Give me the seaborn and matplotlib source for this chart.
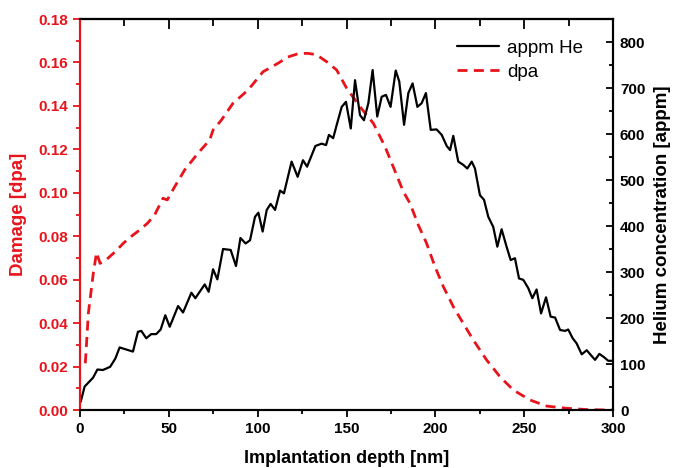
import matplotlib
matplotlib.use("Agg")
import matplotlib.pyplot as plt
import seaborn as sns
from matplotlib.ticker import MultipleLocator

# helium profile (appm)
he_depth = [0.4, 2.6, 7.3, 9.8, 12.9, 17.0, 19.9, 22.3, 29.8, 32.6, 34.5, 37.3, 40.1, 42.9,
            45.4, 48.0, 50.5, 55.2, 58.0, 62.7, 64.9, 70.2, 72.4, 74.9, 77.3, 80.5, 84.8,
            87.8, 90.3, 93.2, 95.7, 98.5, 100.4, 102.8, 105.1, 107.3, 109.8, 112.6, 114.8,
            119.1, 122.5, 125.5, 127.8, 132.5, 136.0, 138.5, 140.1, 142.5, 144.5, 147.3,
            149.7, 152.4, 154.8, 157.6, 159.8, 162.3, 164.7, 167.3, 169.8, 172.2, 174.8,
            177.7, 179.7, 182.4, 184.8, 187.2, 189.9, 192.3, 194.7, 197.4, 200.7, 203.6,
            206.4, 208.3, 210.1, 212.9, 215.7, 218.0, 220.5, 222.3, 225.1, 227.4, 229.8,
            232.6, 234.9, 237.3, 240.1, 242.4, 244.8, 247.1, 249.5, 252.3, 254.6, 257.0,
            259.5, 262.3, 264.9, 267.4, 270.2, 273.0, 274.8, 277.3, 279.5, 282.4, 285.2,
            287.4, 289.9, 292.3, 294.9, 297.3, 299.3]
he_appm = [18, 51, 70, 88, 87, 94, 112, 136, 127, 170, 172, 156, 165, 165,
           175, 206, 181, 226, 212, 255, 243, 273, 257, 306, 284, 350, 348,
           313, 374, 362, 369, 420, 429, 388, 435, 448, 435, 477, 471,
           540, 507, 543, 529, 574, 579, 576, 598, 591, 620, 659,
           670, 612, 717, 641, 630, 667, 739, 638, 681, 685, 659,
           738, 714, 620, 689, 710, 659, 667, 689, 609, 610, 598,
           574, 565, 596, 540, 533, 525, 540, 525, 467, 457, 420,
           398, 355, 393, 355, 326, 330, 286, 283, 265, 243, 262,
           210, 245, 203, 201, 174, 172, 175, 156, 145, 121, 130,
           120, 109, 122, 115, 107, 107]

# damage profile (dpa)
dpa_depth = [3.0, 4.7, 7.5, 9.3, 11.3, 15.2, 20.0, 24.3, 29.0, 33.6, 38.0, 42.0, 46.7,
             49.1, 53.3, 58.9, 66.4, 73.0, 74.9, 79.6, 86.1, 94.6, 103.0, 111.4,
             117.0, 122.7, 128.0, 133.0, 138.9, 144.5, 150.1, 157.6, 165.1, 171.7,
             176.3, 182.0, 185.7, 190.4, 195.1, 199.8, 204.5, 210.1, 215.7, 221.4,
             228.9, 236.4, 243.9, 253.3, 262.7, 274.0, 285.2, 296.4, 300.0]
dpa_val = [0.0215, 0.0445, 0.063, 0.0725, 0.0675, 0.0695, 0.073, 0.0767, 0.080, 0.0829,
           0.086, 0.0898, 0.0975, 0.0967, 0.1028, 0.1105, 0.1182, 0.1243, 0.1289,
           0.1335, 0.1412, 0.1473, 0.1557, 0.1596, 0.1625, 0.1640, 0.1642, 0.1636,
           0.1603, 0.1565, 0.1481, 0.1396, 0.132, 0.1212, 0.112, 0.1005, 0.0952,
           0.0852, 0.0767, 0.066, 0.0568, 0.0476, 0.0399, 0.0322, 0.023, 0.0153,
           0.0092, 0.0046, 0.0018, 0.0008, 0.0002, 0.0, 0.0]

sns.set_style("ticks")
plt.rcParams['font.family'] = ['Liberation Sans', 'DejaVu Sans']
plt.rcParams['text.color'] = 'black'
plt.rcParams['axes.labelcolor'] = 'black'
plt.rcParams['xtick.color'] = 'black'
plt.rcParams['ytick.color'] = 'black'
plt.rcParams['axes.edgecolor'] = 'black'
red = '#e8141c'

fig = plt.figure(figsize=(6.74, 4.68), dpi=100)
ax = fig.add_axes([0.1187, 0.1239, 0.7908, 0.8355])
ax2 = ax.twinx()

sns.lineplot(x=dpa_depth, y=dpa_val, ax=ax, color=red, lw=2.0, label='dpa',
             estimator=None, sort=False)
ax.lines[0].set_dashes([3.6, 2.3])
sns.lineplot(x=he_depth, y=he_appm, ax=ax2, color='black', lw=1.6, label='appm He',
             estimator=None, sort=False)

ax.set_xlim(0, 300)
ax.set_ylim(0, 0.18)
ax2.set_ylim(0, 850)

ax.xaxis.set_major_locator(MultipleLocator(50))
ax.xaxis.set_minor_locator(MultipleLocator(25))
ax.yaxis.set_major_locator(MultipleLocator(0.02))
ax.yaxis.set_minor_locator(MultipleLocator(0.01))
ax.yaxis.set_major_formatter(plt.FormatStrFormatter('%.2f'))
ax2.yaxis.set_major_locator(MultipleLocator(100))
ax2.yaxis.set_minor_locator(MultipleLocator(50))

ax.tick_params(axis='x', which='major', direction='out', length=5, width=1.3,
               labelsize=11, colors='black')
ax.tick_params(axis='x', which='minor', direction='out', length=3, width=1.3)
ax.tick_params(axis='y', which='major', direction='out', length=5, width=1.3,
               labelsize=11, colors=red)
ax.tick_params(axis='y', which='minor', direction='out', length=3, width=1.3, colors=red)
ax2.tick_params(axis='y', which='major', direction='in', length=5, width=1.3,
                labelsize=11, colors='black', pad=5)
ax2.tick_params(axis='y', which='minor', direction='in', length=3, width=1.3)

top = ax.secondary_xaxis('top')
top.xaxis.set_major_locator(MultipleLocator(50))
top.xaxis.set_minor_locator(MultipleLocator(25))
top.tick_params(which='major', direction='in', length=7, width=1.3, labeltop=False)
top.tick_params(which='minor', direction='in', length=5, width=1.3)
top.spines['top'].set_linewidth(1.5)

for lab in ax.get_xticklabels() + ax.get_yticklabels() + ax2.get_yticklabels():
    lab.set_fontweight('bold')

for s in ax.spines.values():
    s.set_linewidth(1.5)
for s in ax2.spines.values():
    s.set_linewidth(1.5)
ax2.spines['left'].set_color(red)
ax.spines['left'].set_color(red)

ax.set_xlabel('Implantation depth [nm]', fontsize=13, fontweight='bold', labelpad=10)
ax.set_ylabel('Damage [dpa]', fontsize=13.5, fontweight='bold', color=red, labelpad=8)
ax2.set_ylabel('Helium concentration [appm]', fontsize=13.5, fontweight='bold', labelpad=6)

h1, l1 = ax2.get_legend_handles_labels()
h2, l2 = ax.get_legend_handles_labels()
ax.get_legend().remove()
ax2.get_legend().remove()
ax2.legend(h1 + h2, l1 + l2, loc='upper right', bbox_to_anchor=(0.975, 0.99),
           frameon=False, fontsize=13.5, handlelength=2.25, handletextpad=0.4,
           labelspacing=0.35)

fig.savefig('out.png', dpi=100)
